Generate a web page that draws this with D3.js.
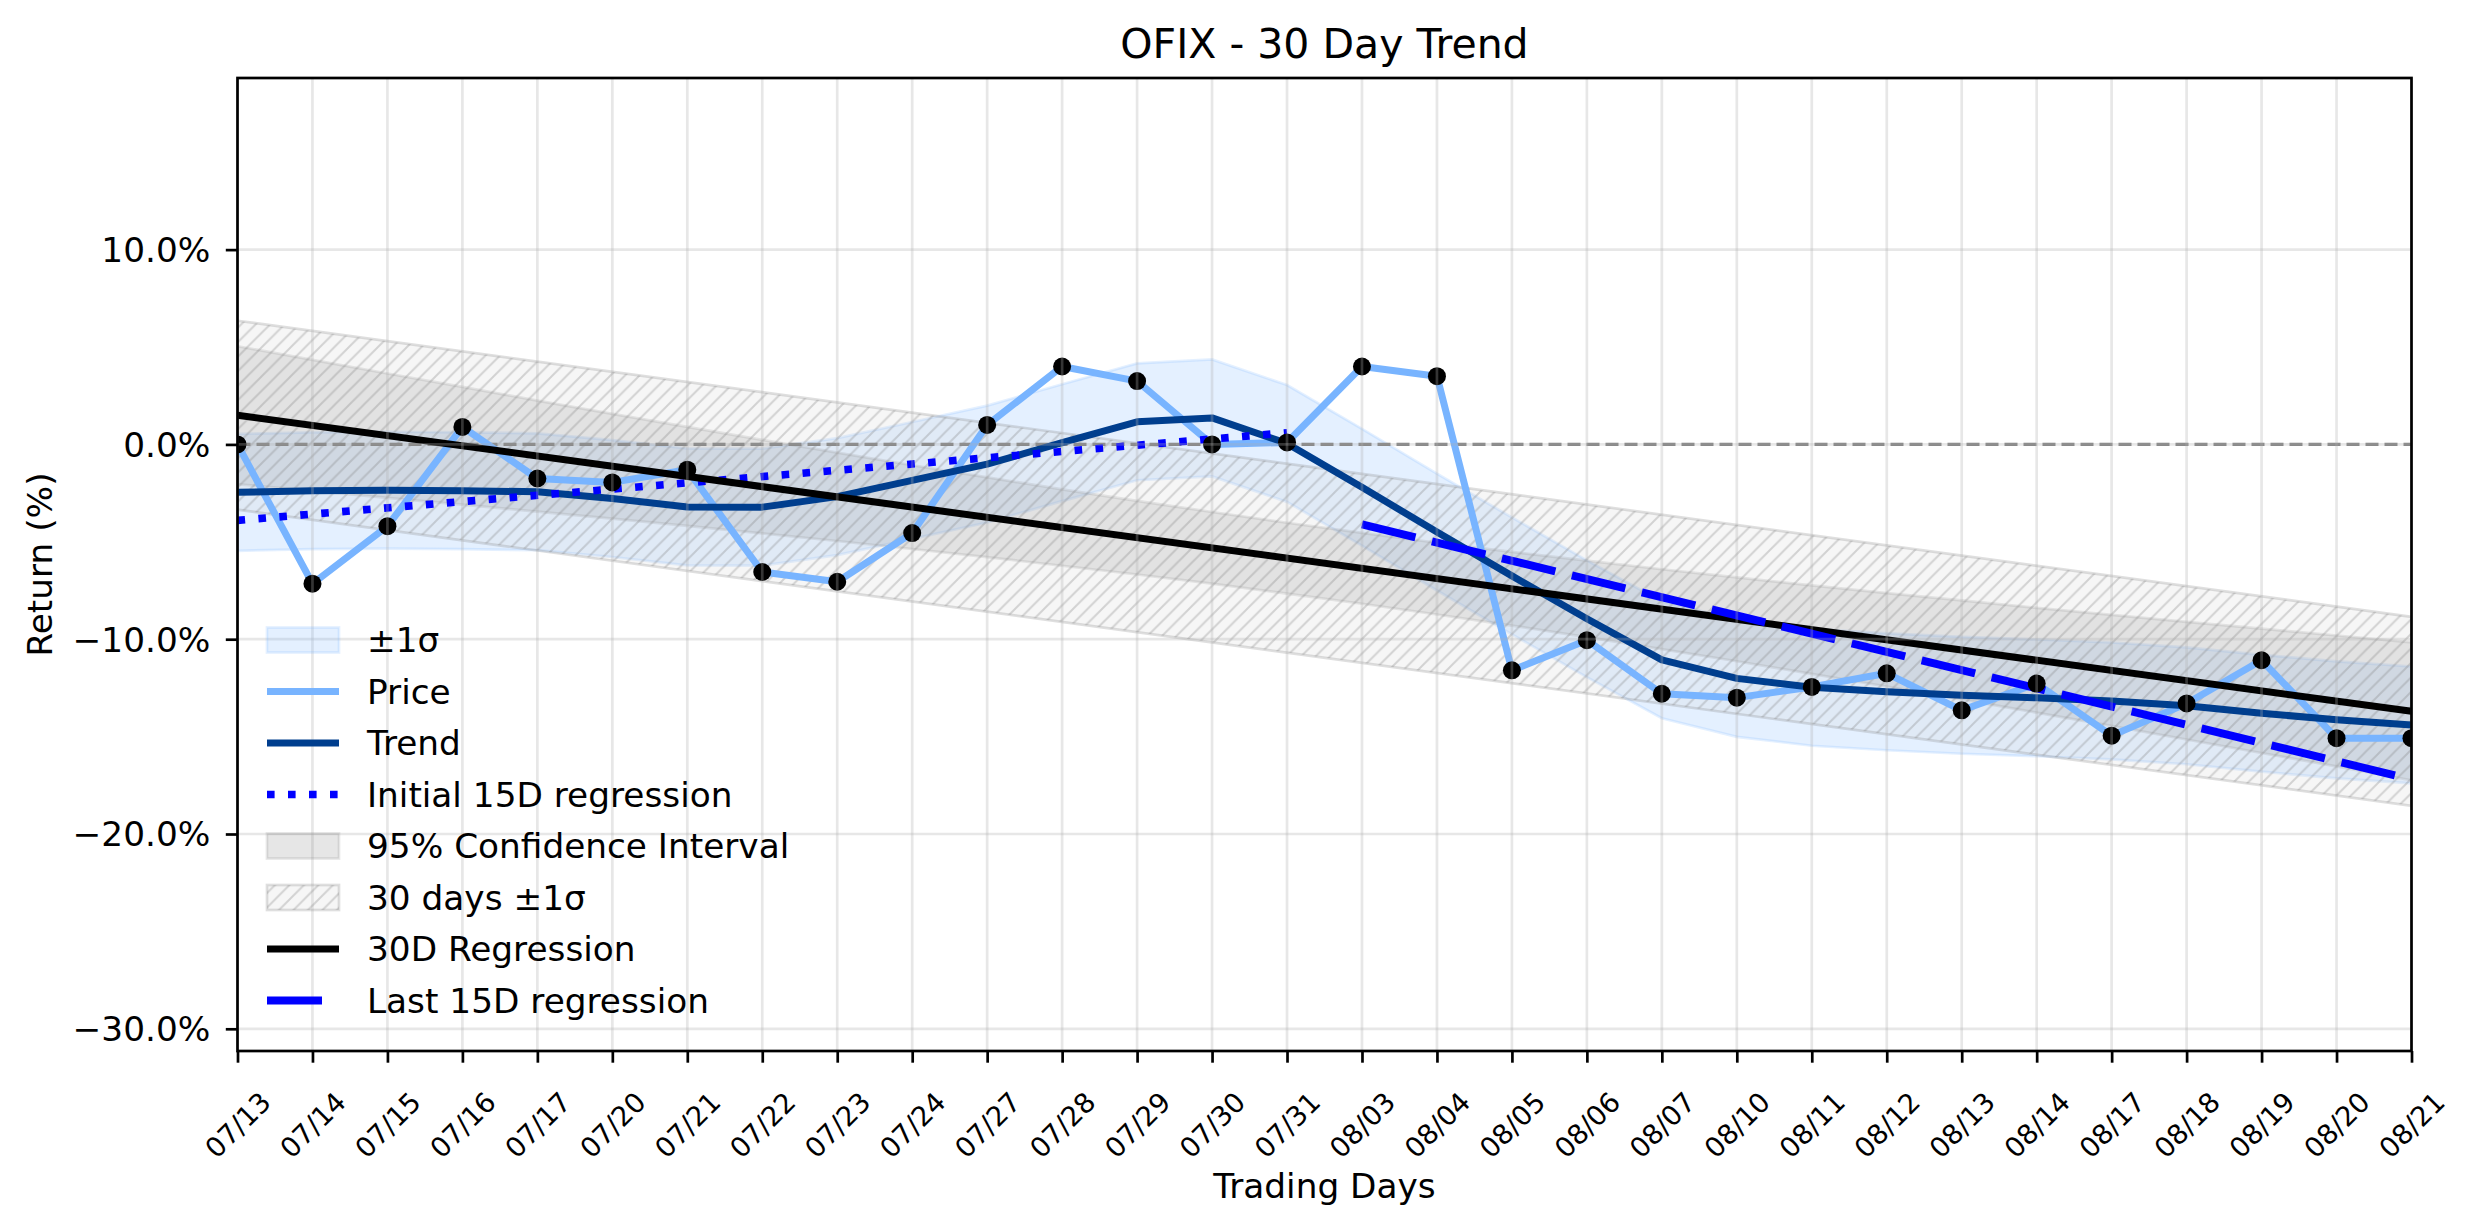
<!DOCTYPE html>
<html>
<head>
<meta charset="utf-8">
<script src="https://cdn.jsdelivr.net/npm/d3@7"></script>
<style>
html,body{margin:0;padding:0;background:#fff;}
svg{display:block;}
text{font-family:"DejaVu Sans",sans-serif;fill:#000;}
</style>
</head>
<body>
<div id="chart"></div>
<script>
// ---------------- data ----------------
const dates = ["07/13","07/14","07/15","07/16","07/17","07/20","07/21","07/22","07/23","07/24",
               "07/27","07/28","07/29","07/30","07/31","08/03","08/04","08/05","08/06","08/07",
               "08/10","08/11","08/12","08/13","08/14","08/17","08/18","08/19","08/20","08/21"];
const priceReturn = [0.0, -7.15, -4.2, 0.9, -1.75, -1.95, -1.3, -6.55, -7.05, -4.55,
                     1.0, 4.0, 3.25, 0.0, 0.1, 4.0, 3.5, -11.6, -10.05, -12.8,
                     -13.0, -12.45, -11.75, -13.65, -12.28, -14.95, -13.3, -11.08, -15.08, -15.08];
const trendValues = [-2.46, -2.38, -2.35, -2.38, -2.43, -2.78, -3.21, -3.22, -2.68, -1.85,
                     -1.01, 0.09, 1.16, 1.36, 0.05, -2.2, -4.5, -6.75, -8.95, -11.06,
                     -12.01, -12.47, -12.7, -12.88, -13.01, -13.17, -13.42, -13.8, -14.14, -14.4];
const trendSigma = [3.0, 3.0, 3.0, 3.0, 3.0, 3.0, 3.0, 3.0, 3.0, 3.0,
                    3.0, 3.0, 3.0, 3.0, 3.0, 3.0, 3.0, 3.0, 3.0, 3.0,
                    3.0, 3.0, 3.0, 3.0, 3.0, 3.0, 3.0, 3.0, 3.0, 3.0];
const ciUpper = [5.04, 4.34, 3.64, 2.95, 2.25, 1.57, 0.90, 0.23, -0.42, -1.07,
                 -1.69, -2.31, -2.90, -3.47, -4.02, -4.54, -5.05, -5.52, -5.97, -6.41,
                 -6.83, -7.24, -7.63, -8.01, -8.39, -8.75, -9.11, -9.46, -9.81, -10.16];
const ciLower = [-2.04, -2.38, -2.74, -3.09, -3.45, -3.81, -4.18, -4.57, -4.96, -5.37,
                 -5.79, -6.23, -6.68, -7.15, -7.66, -8.18, -8.73, -9.30, -9.89, -10.51,
                 -11.13, -11.78, -12.43, -13.09, -13.77, -14.45, -15.15, -15.84, -16.53, -17.24];
const reg30Days = ["07/13", "08/21"];
const reg30Values = [1.5, -13.7];
const reg30Sigma = 4.85;
const initialRegDays = ["07/13", "07/31"];
const initialRegValues = [-3.9, 0.6];
const lastRegDays = ["08/03", "08/21"];
const lastRegValues = [-4.1, -17.2];
const yTicks = [10, 0, -10, -20, -30];
const yTickLabels = ["10.0%", "0.0%", "\u221210.0%", "\u221220.0%", "\u221230.0%"];
const legendLabels = ["\u00b11\u03c3", "Price", "Trend", "Initial 15D regression",
                      "95% Confidence Interval", "30 days \u00b11\u03c3", "30D Regression", "Last 15D regression"];

// ---------------- layout ----------------
const W = 2474, H = 1224;
const L = 237.5, R = 2411.5, T = 78, B = 1051;
const FS = 34.3, FS_TITLE = 41, FS_XT = 27.4;
const C = {
  price: "#78b4ff", trend: "#003e8e", band: "#78b4ff",
  blue: "#0000ff", grid: "#b0b0b0"
};

const svg = d3.select("#chart").append("svg").attr("width", W).attr("height", H)
  .style("background", "#fff");

const x = d3.scaleLinear().domain([0, dates.length - 1]).range([L, R]);
const y = d3.scaleLinear().domain([-31.14, 18.81]).range([B, T]);
const xi = d => dates.indexOf(d);

const defs = svg.append("defs");
defs.append("clipPath").attr("id", "plotclip").append("rect")
  .attr("x", L).attr("y", T).attr("width", R - L).attr("height", B - T);
const hs = 14.5;
const pat = defs.append("pattern").attr("id", "hatch").attr("patternUnits", "userSpaceOnUse")
  .attr("width", hs).attr("height", hs);
pat.append("path")
  .attr("d", `M0,${hs} L${hs},0 M${-hs/4},${hs/4} L${hs/4},${-hs/4} M${hs*3/4},${hs*5/4} L${hs*5/4},${hs*3/4}`)
  .attr("stroke", "#808080").attr("stroke-opacity", 0.3).attr("stroke-width", 2);

const plot = svg.append("g").attr("clip-path", "url(#plotclip)");

// ---------------- bands ----------------
const idx = d3.range(dates.length);
const bandArea = d3.area().x(i => x(i))
  .y0(i => y(trendValues[i] - trendSigma[i]))
  .y1(i => y(trendValues[i] + trendSigma[i]));
plot.append("path").attr("d", bandArea(idx))
  .attr("fill", C.band).attr("fill-opacity", 0.2)
  .attr("stroke", C.band).attr("stroke-opacity", 0.2).attr("stroke-width", 2.7);

const ciArea = d3.area().x(i => x(i)).y0(i => y(ciLower[i])).y1(i => y(ciUpper[i]));
plot.append("path").attr("d", ciArea(idx))
  .attr("fill", "#808080").attr("fill-opacity", 0.2)
  .attr("stroke", "#808080").attr("stroke-opacity", 0.2).attr("stroke-width", 2.7);

const regPts = reg30Days.map((d, k) => ({i: xi(d), v: reg30Values[k]}));
const sdArea = d3.area().x(p => x(p.i)).y0(p => y(p.v - reg30Sigma)).y1(p => y(p.v + reg30Sigma));
plot.append("path").attr("d", sdArea(regPts))
  .attr("fill", "#d3d3d3").attr("fill-opacity", 0.2);
plot.append("path").attr("d", sdArea(regPts))
  .attr("fill", "url(#hatch)")
  .attr("stroke", "#808080").attr("stroke-opacity", 0.25).attr("stroke-width", 2.7);

// ---------------- grid ----------------
const grid = svg.append("g");
grid.selectAll("line.v").data(idx).join("line").attr("class", "v")
  .attr("x1", i => x(i)).attr("x2", i => x(i)).attr("y1", T).attr("y2", B)
  .attr("stroke", C.grid).attr("stroke-opacity", 0.3).attr("stroke-width", 2.7);
grid.selectAll("line.h").data(yTicks).join("line").attr("class", "h")
  .attr("x1", L).attr("x2", R).attr("y1", v => y(v)).attr("y2", v => y(v))
  .attr("stroke", C.grid).attr("stroke-opacity", 0.3).attr("stroke-width", 2.7);

// ---------------- lines ----------------
plot.append("line").attr("x1", L).attr("x2", R).attr("y1", y(0)).attr("y2", y(0))
  .attr("stroke", "#808080").attr("stroke-width", 3.3).attr("stroke-dasharray", "13,6");

const line = d3.line().x(p => x(p.i)).y(p => y(p.v));
const series = arr => arr.map((v, i) => ({i, v}));

plot.append("path").attr("d", line(series(priceReturn))).attr("fill", "none")
  .attr("stroke", C.price).attr("stroke-width", 7).attr("stroke-linejoin", "round");
plot.append("path").attr("d", line(series(trendValues))).attr("fill", "none")
  .attr("stroke", C.trend).attr("stroke-width", 7).attr("stroke-linejoin", "round");
plot.append("path").attr("d", line(initialRegDays.map((d, k) => ({i: xi(d), v: initialRegValues[k]}))))
  .attr("fill", "none").attr("stroke", C.blue).attr("stroke-width", 7.6)
  .attr("stroke-dasharray", "7.6,13.4");
plot.append("path").attr("d", line(regPts)).attr("fill", "none")
  .attr("stroke", "#000").attr("stroke-width", 7);
plot.append("path").attr("d", line(lastRegDays.map((d, k) => ({i: xi(d), v: lastRegValues[k]}))))
  .attr("fill", "none").attr("stroke", C.blue).attr("stroke-width", 8)
  .attr("stroke-dasharray", "55,17");

plot.selectAll("circle").data(series(priceReturn)).join("circle")
  .attr("cx", p => x(p.i)).attr("cy", p => y(p.v)).attr("r", 9).attr("fill", "#000");

// ---------------- axes ----------------
const xAxis = d3.axisBottom(x).tickValues(idx).tickFormat(i => dates[i])
  .tickSize(11.7).tickPadding(0);
const gx = svg.append("g").attr("transform", `translate(0,${B})`).call(xAxis);
gx.select(".domain").remove();
gx.selectAll(".tick line").attr("stroke", "#000").attr("stroke-width", 2.7);
gx.selectAll(".tick text")
  .attr("y", 0).attr("dy", null)
  .attr("transform", `translate(0,${1125 - B}) rotate(-45)`)
  .attr("text-anchor", "middle").attr("dominant-baseline", "central")
  .style("font-family", "DejaVu Sans").style("font-size", FS_XT + "px").attr("fill", "#000");

const yAxis = d3.axisLeft(y).tickValues(yTicks).tickFormat((v, k) => yTickLabels[k])
  .tickSize(11.7).tickPadding(15.5);
const gy = svg.append("g").attr("transform", `translate(${L},0)`).call(yAxis);
gy.select(".domain").remove();
gy.selectAll(".tick line").attr("stroke", "#000").attr("stroke-width", 2.7);
gy.selectAll(".tick text").attr("dy", null).attr("dominant-baseline", "central")
  .style("font-family", "DejaVu Sans").style("font-size", FS + "px").attr("fill", "#000");

// spines
svg.append("rect").attr("x", L).attr("y", T).attr("width", R - L).attr("height", B - T)
  .attr("fill", "none").attr("stroke", "#000").attr("stroke-width", 2.7);

// titles
svg.append("text").attr("x", (L + R) / 2).attr("y", 58).attr("text-anchor", "middle")
  .style("font-size", FS_TITLE + "px").text("OFIX - 30 Day Trend");
svg.append("text").attr("x", (L + R) / 2).attr("y", 1198).attr("text-anchor", "middle")
  .style("font-size", FS + "px").text("Trading Days");
svg.append("text").attr("transform", `translate(52,${(T + B) / 2}) rotate(-90)`)
  .attr("text-anchor", "middle").style("font-size", FS + "px").text("Return (%)");

// ---------------- legend ----------------
const lg = svg.append("g");
const hx0 = 267, hx1 = 339, tx = 367, ly0 = 640, lstep = 51.5;
const kinds = ["bandPatch", "priceLine", "trendLine", "dotLine", "ciPatch", "hatchPatch", "blackLine", "dashLine"];
kinds.forEach((k, n) => {
  const cy = ly0 + n * lstep;
  const g = lg.append("g");
  if (k === "bandPatch" || k === "ciPatch" || k === "hatchPatch") {
    const r = g.append("rect").attr("x", hx0).attr("y", cy - 12.5).attr("width", hx1 - hx0).attr("height", 25);
    if (k === "bandPatch") r.attr("fill", C.band).attr("fill-opacity", 0.2).attr("stroke", C.band).attr("stroke-opacity", 0.2).attr("stroke-width", 2.7);
    if (k === "ciPatch") r.attr("fill", "#808080").attr("fill-opacity", 0.2).attr("stroke", "#808080").attr("stroke-opacity", 0.2).attr("stroke-width", 2.7);
    if (k === "hatchPatch") {
      r.attr("fill", "#d3d3d3").attr("fill-opacity", 0.2);
      g.append("rect").attr("x", hx0).attr("y", cy - 12.5).attr("width", hx1 - hx0).attr("height", 25)
        .attr("fill", "url(#hatch)").attr("stroke", "#808080").attr("stroke-opacity", 0.25).attr("stroke-width", 2.7);
    }
  } else {
    const l = g.append("line").attr("x1", hx0).attr("x2", hx1).attr("y1", cy).attr("y2", cy);
    if (k === "priceLine") l.attr("stroke", C.price).attr("stroke-width", 7);
    if (k === "trendLine") l.attr("stroke", C.trend).attr("stroke-width", 7);
    if (k === "dotLine") l.attr("stroke", C.blue).attr("stroke-width", 7.6).attr("stroke-dasharray", "7.6,13.4");
    if (k === "blackLine") l.attr("stroke", "#000").attr("stroke-width", 7);
    if (k === "dashLine") l.attr("stroke", C.blue).attr("stroke-width", 8).attr("stroke-dasharray", "55,17");
  }
  g.append("text").attr("x", tx).attr("y", cy).attr("dominant-baseline", "central")
    .style("font-size", FS + "px").text(legendLabels[n]);
});
</script>
</body>
</html>
